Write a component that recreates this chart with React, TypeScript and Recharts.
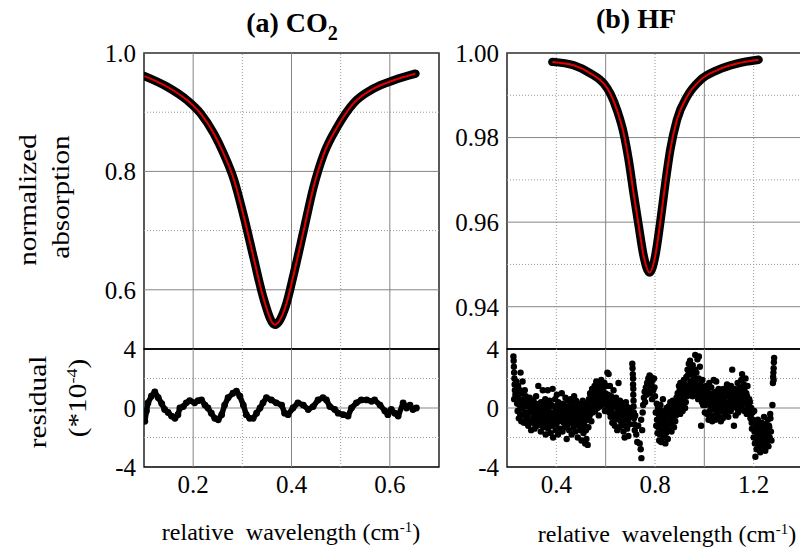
import React from 'react'
import {
  ComposedChart, Line, Scatter, XAxis, YAxis, ReferenceLine, ReferenceArea,
} from 'recharts'

const FONT = '"Liberation Serif", "Times New Roman", serif'

// ─── (a) CO2 line profile + fit ─────────────────────────────────────────────
const co2X = [0.101, 0.147, 0.188, 0.215, 0.242, 0.262, 0.283, 0.303, 0.323, 0.344, 0.366,
  0.388, 0.405, 0.425, 0.445, 0.466, 0.493, 0.526, 0.567, 0.608, 0.652]
const co2Y = [0.961, 0.943, 0.920, 0.898, 0.864, 0.830, 0.786, 0.724, 0.654, 0.583, 0.541,
  0.572, 0.628, 0.701, 0.774, 0.830, 0.875, 0.915, 0.940, 0.954, 0.965]

// residual (*1e-4)
const co2ResX = [0.1017, 0.105, 0.108, 0.115, 0.122, 0.129, 0.136, 0.142, 0.149, 0.156, 0.163,
  0.169, 0.173, 0.180, 0.186, 0.193, 0.203, 0.210, 0.217, 0.224, 0.230, 0.237, 0.244, 0.251,
  0.258, 0.264, 0.271, 0.281, 0.288, 0.295, 0.302, 0.308, 0.315, 0.322, 0.329, 0.336, 0.342,
  0.349, 0.359, 0.369, 0.380, 0.386, 0.393, 0.403, 0.413, 0.424, 0.434, 0.444, 0.454, 0.464,
  0.471, 0.478, 0.488, 0.495, 0.505, 0.515, 0.522, 0.532, 0.542, 0.553, 0.563, 0.569, 0.580,
  0.590, 0.596, 0.603, 0.610, 0.617, 0.627, 0.634, 0.641, 0.647, 0.654]
const co2ResY = [-0.9, -0.2, 0.34, 0.8, 1.1, 0.7, 0.3, -0.1, -0.3, -0.55, -0.7,
  -0.45, 0.0, 0.1, 0.35, 0.5, 0.35, 0.5, 0.55, 0.2, 0.0, -0.35, -0.7, -0.8,
  -0.45, 0.2, 0.7, 1.0, 1.15, 0.8, 0.2, -0.45, -0.7, -0.7, -0.35, 0.0, 0.35,
  0.7, 0.55, 0.35, 0.2, -0.35, -0.45, 0.0, 0.35, 0.2, -0.1, 0.1, 0.55, 0.7,
  0.55, 0.1, -0.1, -0.35, -0.45, -0.55, 0.0, 0.35, 0.55, 0.55, 0.45, 0.55, 0.2,
  -0.2, -0.45, -0.1, -0.35, -0.55, 0.35, 0.0, 0.2, -0.1, 0.0]

// ─── (b) HF line profile + fit ──────────────────────────────────────────────
const hfX = [0.384, 0.470, 0.538, 0.592, 0.619, 0.646, 0.673, 0.693, 0.713, 0.734, 0.754,
  0.778, 0.801, 0.821, 0.842, 0.862, 0.889, 0.930, 0.984, 1.051, 1.132, 1.220]
const hfY = [0.9979, 0.9971, 0.9952, 0.9928, 0.9904, 0.9865, 0.9810, 0.9748, 0.9669, 0.9591, 0.9520,
  0.9481, 0.9520, 0.9598, 0.9692, 0.9771, 0.9842, 0.9897, 0.9936, 0.9959, 0.9975, 0.9984]

// residual points [x, y(*1e-4)]
const hfResidual: [number, number][] = [
  [0.226, 3.5], [0.227, 3.2], [0.228, 2.8], [0.229, 2.4], [0.230, 2.0], [0.231, 1.6], [0.232, 1.2], [0.229, 0.6], [0.234, 0.9],
  [0.238, 1.8], [0.240, 1.1], [0.241, 0.3], [0.243, -0.2], [0.245, 1.5], [0.246, 0.7], [0.248, -0.7], [0.250, 0.2],
  [0.252, 1.2], [0.253, -0.4], [0.255, 2.4], [0.256, 0.5], [0.258, -0.9], [0.260, 1.0], [0.262, 0.0], [0.263, 1.8],
  [0.265, -0.5], [0.267, 0.6], [0.269, -1.0], [0.270, 0.3], [0.272, 1.2], [0.274, -0.3], [0.276, 0.8], [0.278, -0.8],
  [0.280, 0.1], [0.282, 0.5], [0.284, -0.6], [0.286, -1.2], [0.288, 0.2], [0.290, -0.3], [0.292, 0.7], [0.294, -0.9],
  [0.296, -0.1], [0.298, -1.5], [0.300, 0.4],
  [0.303, -0.2], [0.305, -1.0], [0.307, 0.5], [0.308, -0.6], [0.310, 0.1], [0.312, -1.4],
  [0.313, -0.3], [0.315, -0.9], [0.317, 0.3], [0.318, 0.8], [0.320, -0.5], [0.322, -1.2],
  [0.323, -0.1], [0.325, -0.7], [0.327, 1.5], [0.328, 0.2], [0.330, -1.1], [0.332, -0.4],
  [0.333, -0.8], [0.335, 0.0], [0.337, -1.6], [0.338, 0.4], [0.340, -0.3], [0.342, -1.0],
  [0.343, -0.6], [0.345, 1.2], [0.347, -1.3], [0.348, 0.1], [0.350, -0.9], [0.352, -0.2],
  [0.353, -0.5], [0.355, 0.6], [0.357, -1.8], [0.358, -0.2], [0.360, -1.1], [0.362, 0.3],
  [0.363, -0.7], [0.365, 1.2], [0.367, -1.4], [0.368, 0.0], [0.370, -0.4], [0.372, -1.0],
  [0.373, 0.5], [0.375, -0.8], [0.377, -1.7], [0.378, -0.3], [0.380, 0.2], [0.382, -1.2],
  [0.383, -0.6], [0.385, 1.3], [0.387, -2.0], [0.388, 0.1], [0.390, -1.0], [0.392, -0.4],
  [0.393, -0.7], [0.395, 0.6], [0.397, -1.5], [0.398, -0.2], [0.400, -1.1], [0.402, 0.9],
  [0.403, -0.5], [0.405, 0.2], [0.407, -1.8], [0.408, 0.4], [0.410, -0.9], [0.412, -0.3],
  [0.413, -0.6], [0.415, -1.4], [0.417, 0.1], [0.418, -0.1], [0.420, -0.8], [0.422, 1.0],
  [0.423, -0.4], [0.425, -1.6], [0.427, 0.3], [0.428, 0.2], [0.430, -1.0], [0.432, -0.6],
  [0.433, -0.3], [0.435, -1.3], [0.437, 0.7], [0.438, -0.8], [0.440, 0.0], [0.442, -2.1],
  [0.443, -0.4], [0.445, 0.5], [0.447, -1.1], [0.448, 0.1], [0.450, -0.7], [0.452, -1.5],
  [0.453, -0.2], [0.455, -1.0], [0.457, 0.6], [0.458, -0.6], [0.460, 0.2], [0.462, -1.8],
  [0.463, -0.1], [0.465, -0.9], [0.467, 0.4], [0.468, -0.5], [0.470, -1.3], [0.472, 0.8],
  [0.473, 0.0], [0.475, -0.7], [0.477, -1.6], [0.478, -0.3], [0.480, 0.5], [0.482, -1.1],
  [0.483, -0.8], [0.485, 0.1], [0.487, -2.0], [0.488, -0.4], [0.490, -1.2], [0.492, 0.3],
  [0.493, 0.0], [0.495, -0.6], [0.497, -1.5], [0.498, -0.9], [0.500, 0.2], [0.502, -2.2],
  [0.503, -0.3], [0.505, -1.2], [0.507, 0.5], [0.508, -0.7], [0.510, -1.7], [0.512, -0.1],
  [0.513, -1.1], [0.515, 0.3], [0.517, -2.4], [0.518, -0.5], [0.520, -1.5], [0.522, -2.1],
  [0.523, 0.2], [0.525, -0.8], [0.527, -2.5], [0.528, -0.2], [0.530, -1.3], [0.532, 0.6],
  [0.533, 0.4], [0.535, -0.5], [0.537, 1.0], [0.538, 0.9], [0.540, 0.0], [0.542, -0.9],
  [0.543, 0.6], [0.545, 1.3], [0.547, -0.3], [0.548, 1.1], [0.550, 0.2], [0.552, 0.8],
  [0.553, 0.5], [0.555, 1.5], [0.557, -0.2], [0.558, 1.0], [0.560, 0.3], [0.562, 1.8],
  [0.563, 0.7], [0.565, 1.4], [0.567, 0.0], [0.568, 1.2], [0.570, 0.4], [0.572, -0.5],
  [0.573, 0.8], [0.575, 1.6], [0.577, 0.1], [0.578, 1.3], [0.580, 0.5], [0.582, 1.9],
  [0.583, 0.9], [0.585, 0.2], [0.587, 1.6], [0.588, 1.1], [0.590, 0.6], [0.592, 1.4],
  [0.593, 0.3], [0.595, 1.7], [0.597, -0.2], [0.598, 1.0], [0.600, 0.5], [0.602, 1.5],
  [0.603, 0.7], [0.605, -0.1], [0.607, 2.4], [0.608, 0.2], [0.610, 0.9], [0.612, 2.3],
  [0.613, 0.6], [0.615, -0.3], [0.617, 1.5], [0.618, 0.1], [0.620, -0.6], [0.622, 0.8],
  [0.623, -0.2], [0.625, 0.5], [0.627, -1.0], [0.628, 0.3], [0.630, -0.6], [0.632, 1.2],
  [0.633, -0.4], [0.635, 0.1], [0.637, -1.2], [0.638, 0.2], [0.640, -0.8], [0.642, 0.7],
  [0.643, -0.5], [0.645, 0.0], [0.647, -1.5], [0.648, 0.4], [0.650, -0.3], [0.652, 1.7],
  [0.653, -0.7], [0.655, 0.1], [0.657, -1.3], [0.658, 0.5], [0.660, -0.4], [0.662, -0.9],
  [0.663, 0.0], [0.665, -1.1], [0.667, -0.2], [0.668, -0.5], [0.670, 0.3], [0.672, -1.6],
  [0.673, -0.9], [0.675, 0.0], [0.677, -2.0], [0.678, -0.3], [0.680, -1.2], [0.682, 0.4],
  [0.683, -0.6], [0.685, 0.1], [0.687, -1.4], [0.688, -0.2], [0.690, -0.8], [0.692, -1.9],
  [0.693, -0.4], [0.695, 0.0], [0.697, -1.1], [0.700, -0.6], [0.703, -0.2],
  [0.708, 3.0], [0.709, 2.7], [0.710, 2.3], [0.711, 2.0], [0.711, 1.6], [0.712, 1.3], [0.712, 0.9],
  [0.713, 0.5], [0.713, 0.1], [0.714, -0.3], [0.715, -0.7], [0.716, -1.1], [0.718, -1.5], [0.720, -0.5],
  [0.724, -1.8], [0.728, -2.3], [0.732, -1.2], [0.738, -2.4], [0.742, -2.8], [0.745, -3.4], [0.744, -0.8],
  [0.748, -1.5], [0.750, -0.3],
  [0.752, 0.2], [0.755, 0.7], [0.758, 1.1], [0.760, 0.4], [0.763, 1.4], [0.765, 0.9], [0.768, 1.7],
  [0.770, 1.2], [0.773, 2.0], [0.775, 1.5], [0.778, 2.2], [0.780, 1.0], [0.783, 2.1], [0.786, 1.6],
  [0.788, 0.6], [0.790, 1.9], [0.793, 1.2], [0.796, 2.0], [0.798, 1.4], [0.800, 0.8],
  [0.803, -0.3], [0.805, -1.2], [0.807, 0.3], [0.808, -0.8], [0.810, -1.7], [0.812, 0.0],
  [0.813, -1.3], [0.815, -0.4], [0.817, -2.2], [0.818, -0.6], [0.820, -1.8], [0.822, 0.2],
  [0.823, -1.0], [0.825, -2.3], [0.827, -0.2], [0.828, -1.5], [0.830, -0.7], [0.832, 0.6],
  [0.833, -1.1], [0.835, -2.0], [0.837, -0.3], [0.838, -0.5], [0.840, -1.4], [0.842, -2.4],
  [0.843, -0.9], [0.845, -1.7], [0.847, 0.0], [0.848, -0.3], [0.850, -1.2], [0.852, -2.1],
  [0.853, -0.8], [0.855, 0.1], [0.857, -1.5], [0.858, -0.4], [0.860, -1.1], [0.862, 0.4],
  [0.863, -0.7], [0.865, 0.0], [0.867, -1.6], [0.868, -0.2], [0.870, -1.0], [0.872, 0.5],
  [0.873, 0.1], [0.875, -0.6], [0.877, -1.3], [0.878, -0.3], [0.880, 0.4], [0.882, -0.9],
  [0.883, 0.0], [0.885, -0.5], [0.887, 0.7],
  [0.888, 0.3], [0.890, -0.2], [0.892, 1.0], [0.893, 0.8], [0.895, 0.0], [0.897, 1.5],
  [0.898, 0.4], [0.900, 1.2], [0.902, -0.4], [0.903, 1.7], [0.905, 0.6], [0.907, 0.1],
  [0.908, 0.9], [0.910, 1.4], [0.912, -0.2], [0.913, 1.2], [0.915, 0.3], [0.917, 1.9],
  [0.918, 0.7], [0.920, 1.6], [0.922, 0.0], [0.923, 1.1], [0.925, 0.4], [0.927, 2.1],
  [0.928, 1.5], [0.930, 0.8], [0.932, 2.6], [0.933, 2.2], [0.935, 1.0], [0.937, 3.0],
  [0.938, 2.5], [0.940, 1.4], [0.942, 3.2], [0.943, 1.8], [0.945, 2.8], [0.947, 1.1],
  [0.948, 2.3], [0.950, 1.5], [0.952, 0.8], [0.953, 2.9], [0.955, 1.9], [0.957, 1.2],
  [0.958, 2.1], [0.960, 1.3], [0.962, 2.6], [0.963, 3.6], [0.965, 1.7], [0.967, 0.9],
  [0.968, 2.4], [0.970, 1.0], [0.972, 3.3], [0.973, 1.5], [0.975, 0.6], [0.977, 2.0],
  [0.978, 3.5], [0.980, 1.1], [0.982, 2.8], [0.983, 0.7], [0.985, 1.6], [0.987, -1.2],
  [0.988, 1.2], [0.990, 0.4], [0.992, 1.9], [0.993, 0.9], [0.995, 0.2], [0.997, 1.4],
  [0.998, 0.5], [1.000, 1.1], [1.002, -0.3],
  [1.003, 0.8], [1.005, 0.2], [1.007, 1.5], [1.008, 0.3], [1.010, 1.0], [1.012, -0.4],
  [1.013, 1.2], [1.015, 0.6], [1.017, -0.8], [1.018, 0.4], [1.020, 1.7], [1.022, -0.2],
  [1.023, 0.9], [1.025, -0.6], [1.027, 0.1], [1.028, 1.4], [1.030, 0.5], [1.032, -0.9],
  [1.033, 0.2], [1.035, 1.0], [1.037, -0.5], [1.038, 1.9], [1.040, 0.7], [1.042, -0.1],
  [1.043, 0.4], [1.045, -0.8], [1.047, 1.1], [1.048, 1.8], [1.050, 0.0], [1.052, 0.6],
  [1.053, -0.3], [1.055, 0.9], [1.057, 0.3], [1.058, 1.3], [1.060, -0.6], [1.062, 0.5],
  [1.063, 0.1], [1.065, 0.8], [1.067, -0.9], [1.068, 1.0], [1.070, -0.2], [1.072, 0.4],
  [1.073, 0.6], [1.075, -0.7], [1.077, 1.3], [1.078, 0.0], [1.080, 0.9], [1.082, -0.4],
  [1.083, 0.5], [1.085, 1.2], [1.087, -0.3], [1.088, 0.9], [1.090, 0.1], [1.092, 1.6],
  [1.093, 0.3], [1.095, 1.1], [1.097, -0.6], [1.098, 0.8], [1.100, 0.0], [1.102, 1.4],
  [1.103, 0.4], [1.105, 1.0], [1.107, -0.2], [1.108, 1.5], [1.110, 0.6], [1.112, 0.0],
  [1.113, 2.6], [1.115, 0.2], [1.117, 1.1], [1.118, 0.7], [1.120, -1.2], [1.122, 1.3],
  [1.123, 0.3], [1.125, 1.0], [1.127, -0.5], [1.128, 1.2], [1.130, 0.5], [1.132, 0.0],
  [1.133, 0.8], [1.135, 1.7], [1.137, -0.3], [1.138, 0.2], [1.140, 1.1], [1.142, 0.6],
  [1.143, 1.4], [1.145, 0.4], [1.147, -0.1], [1.148, 0.9], [1.150, 1.9], [1.152, 0.0],
  [1.153, 2.3], [1.155, 1.2], [1.157, 0.4], [1.158, 0.7], [1.160, 1.6], [1.162, -0.2],
  [1.163, 1.3], [1.165, 0.3], [1.167, 2.0], [1.168, 0.6], [1.170, 1.0], [1.172, -0.4],
  [1.173, 0.8], [1.175, 1.5], [1.177, 0.0], [1.178, 0.2], [1.180, -0.4], [1.182, 0.6],
  [1.183, -0.2], [1.185, 0.4], [1.187, -0.7], [1.188, -0.5], [1.190, 0.0], [1.192, -1.0],
  [1.193, -1.4], [1.195, -0.3], [1.197, -0.8], [1.198, -0.9], [1.200, -2.0], [1.202, -0.2],
  [1.203, -1.6], [1.205, -2.4], [1.207, -3.3], [1.208, -2.0], [1.210, -1.2], [1.212, -2.8],
  [1.213, -1.5], [1.215, -2.3], [1.217, -0.8], [1.218, -1.8], [1.220, -2.6], [1.222, -1.1],
  [1.223, -2.2], [1.225, -1.4], [1.227, -3.0], [1.228, -1.7], [1.230, -2.5], [1.232, -1.0],
  [1.233, -2.0], [1.235, -1.3], [1.237, -2.7], [1.238, -1.6], [1.240, -2.4], [1.242, -0.6],
  [1.243, -2.1], [1.245, -1.5], [1.247, -2.9], [1.248, -1.1], [1.250, -2.3], [1.252, -1.8],
  [1.253, -2.5], [1.255, -1.4], [1.257, -0.8], [1.258, -1.9], [1.260, -2.6], [1.262, -1.2],
  [1.263, -1.3], [1.265, -2.0], [1.267, -0.4], [1.268, -0.7], [1.270, -1.6], [1.272, -2.2],
  [1.276, 0.2], [1.278, 1.7], [1.279, 2.1], [1.280, 2.4], [1.281, 2.7], [1.282, 3.1], [1.283, 3.4], [1.281, 1.9],
]

// ─── axis ticks and grid positions ──────────────────────────────────────────
const co2XTicks = [0.2, 0.4, 0.6]
const co2XMinor = [0.3, 0.5]
const co2YTicks = [0.6, 0.8, 1.0]
const co2YMinor = [0.7, 0.9]
const hfXTicks = [0.4, 0.8, 1.2]
const hfXMajorGrid = [0.6, 1.0]
const hfXMinorGrid = [0.4, 0.8, 1.2]
const hfYTicks = [0.94, 0.96, 0.98, 1.0]
const hfYMinor = [0.95, 0.97, 0.99]
const resTicks = [-4, 0, 4]
const resMinor = [-2, 2]

const co2Data = co2X.map((x, i) => ({ x, y: co2Y[i] }))
const co2Res = co2ResX.map((x, i) => ({ x, y: co2ResY[i] }))
const hfData = hfX.map((x, i) => ({ x, y: hfY[i] }))
const hfRes = hfResidual.map(([x, y]) => ({ x, y }))

const tickStyle = { fontSize: 25, fill: '#000', fontFamily: FONT }
const MAJOR = '#858585'
const MINOR = '#9a9a9a'

function grid(xMajor: number[], xMinor: number[], yMajor: number[], yMinor: number[]) {
  return [
    ...xMinor.map(v => <ReferenceLine key={'xn' + v} x={v} stroke={MINOR} strokeDasharray="1 2" />),
    ...yMinor.map(v => <ReferenceLine key={'yn' + v} y={v} stroke={MINOR} strokeDasharray="1 2" />),
    ...xMajor.map(v => <ReferenceLine key={'xj' + v} x={v} stroke={MAJOR} />),
    ...yMajor.map(v => <ReferenceLine key={'yj' + v} y={v} stroke={MAJOR} />),
  ]
}

const dotShape = (p: any) => <circle cx={p.cx} cy={p.cy} r={3.2} fill="#000" />

function VLabel({ cx, cy, children }: { cx: number; cy: number; children: React.ReactNode }) {
  return (
    <div style={{
      position: 'absolute', left: cx, top: cy, fontSize: 25, lineHeight: 1, whiteSpace: 'nowrap',
      fontFamily: FONT, transform: 'translate(-50%, -50%) rotate(-90deg) scaleX(1.17)',
    }}>{children}</div>
  )
}

function HLabel({ cx, top, size, bold, children }: any) {
  return (
    <div style={{
      position: 'absolute', left: cx, top, fontSize: size, lineHeight: 1, whiteSpace: 'pre',
      fontFamily: FONT, fontWeight: bold ? 700 : 400, transform: 'translateX(-50%)',
    }}>{children}</div>
  )
}

const sub = { fontSize: '0.72em', position: 'relative' as const, top: '0.38em' }
const sup = { fontSize: '0.62em', position: 'relative' as const, top: '-0.55em' }

export default function App() {
  return (
    <div style={{ position: 'absolute', left: 0, top: 0, width: 800, height: 548, overflow: 'hidden', background: '#fff' }}>
      {/* (a) CO2 spectrum */}
      <div style={{ position: 'absolute', left: 0, top: 30 }}>
        <ComposedChart width={450} height={325} margin={{ top: 23, right: 11, bottom: 6, left: 0 }}>
          <XAxis type="number" dataKey="x" domain={[0.1, 0.7]} hide allowDataOverflow />
          <YAxis type="number" dataKey="y" domain={[0.5, 1.0]} ticks={co2YTicks} interval={0} width={144}
            axisLine={false} tickLine={false} tick={tickStyle} tickFormatter={(v: number) => v.toFixed(1)} allowDataOverflow />
          {grid(co2XTicks, co2XMinor, co2YTicks, co2YMinor)}
          <ReferenceArea x1={0.1} x2={0.7} y1={0.5} y2={1.0} fill="none" stroke="#000" strokeWidth={1.3} />
          <Line data={co2Data} dataKey="y" type="monotone" stroke="#000" strokeWidth={8.5} strokeLinecap="round"
            dot={false} isAnimationActive={false} />
          <Line data={co2Data} dataKey="y" type="monotone" stroke="#e30000" strokeWidth={2}
            dot={false} isAnimationActive={false} />
        </ComposedChart>
      </div>
      {/* (a) residual */}
      <div style={{ position: 'absolute', left: 0, top: 330 }}>
        <ComposedChart width={450} height={177} margin={{ top: 19, right: 11, bottom: 0, left: 0 }}>
          <XAxis type="number" dataKey="x" domain={[0.1, 0.7]} ticks={co2XTicks} interval={0} height={40}
            axisLine={false} tickLine={false} tick={tickStyle} tickFormatter={(v: number) => v.toFixed(1)} allowDataOverflow />
          <YAxis type="number" dataKey="y" domain={[-4, 4]} ticks={resTicks} interval={0} width={144}
            axisLine={false} tickLine={false} tick={tickStyle} allowDataOverflow />
          {grid(co2XTicks, co2XMinor, [0], resMinor)}
          <ReferenceArea x1={0.1} x2={0.7} y1={-4} y2={4} fill="none" stroke="#000" strokeWidth={1.3} />
          <Line data={co2Res} dataKey="y" type="linear" stroke="#000" strokeWidth={5.5} strokeLinecap="round"
            strokeLinejoin="round" dot={{ r: 3.4, fill: '#000', stroke: 'none' }} isAnimationActive={false} />
        </ComposedChart>
      </div>
      {/* (b) HF spectrum */}
      <div style={{ position: 'absolute', left: 400, top: 30 }}>
        <ComposedChart width={408} height={325} margin={{ top: 23, right: 5, bottom: 6, left: 0 }}>
          <XAxis type="number" dataKey="x" domain={[0.2, 1.4]} hide allowDataOverflow />
          <YAxis type="number" dataKey="y" domain={[0.93, 1.0]} ticks={hfYTicks} interval={0} width={107}
            axisLine={false} tickLine={false} tick={tickStyle} tickFormatter={(v: number) => v.toFixed(2)} allowDataOverflow />
          {grid(hfXMajorGrid, hfXMinorGrid, hfYTicks, hfYMinor)}
          <ReferenceArea x1={0.2} x2={1.4} y1={0.93} y2={1.0} fill="none" stroke="#000" strokeWidth={1.3} />
          <Line data={hfData} dataKey="y" type="monotone" stroke="#000" strokeWidth={8.5} strokeLinecap="round"
            dot={false} isAnimationActive={false} />
          <Line data={hfData} dataKey="y" type="monotone" stroke="#e30000" strokeWidth={2}
            dot={false} isAnimationActive={false} />
        </ComposedChart>
      </div>
      {/* (b) residual */}
      <div style={{ position: 'absolute', left: 400, top: 330 }}>
        <ComposedChart width={408} height={177} margin={{ top: 19, right: 5, bottom: 0, left: 0 }}>
          <XAxis type="number" dataKey="x" domain={[0.2, 1.4]} ticks={hfXTicks} interval={0} height={40}
            axisLine={false} tickLine={false} tick={tickStyle} tickFormatter={(v: number) => v.toFixed(1)} allowDataOverflow />
          <YAxis type="number" dataKey="y" domain={[-4, 4]} ticks={resTicks} interval={0} width={107}
            axisLine={false} tickLine={false} tick={tickStyle} allowDataOverflow />
          {grid(hfXMajorGrid, hfXMinorGrid, [0], resMinor)}
          <ReferenceArea x1={0.2} x2={1.4} y1={-4} y2={4} fill="none" stroke="#000" strokeWidth={1.3} />
          <Scatter data={hfRes} dataKey="y" shape={dotShape} isAnimationActive={false} />
        </ComposedChart>
      </div>

      {/* titles and axis labels */}
      <HLabel cx={292} top={9} size={28} bold>(a) CO<span style={sub}>2</span></HLabel>
      <HLabel cx={636} top={5} size={28} bold>(b) HF</HLabel>
      <VLabel cx={26.5} cy={200}>normalized</VLabel>
      <VLabel cx={60} cy={197}>absorption</VLabel>
      <VLabel cx={36.5} cy={402}>residual</VLabel>
      <VLabel cx={77} cy={398}>(*10<span style={sup}>-4</span>)</VLabel>
      <HLabel cx={291} top={520} size={24}>relative  wavelength (cm<span style={sup}>-1</span>)</HLabel>
      <HLabel cx={667} top={522} size={24}>relative  wavelength (cm<span style={sup}>-1</span>)</HLabel>
    </div>
  )
}
